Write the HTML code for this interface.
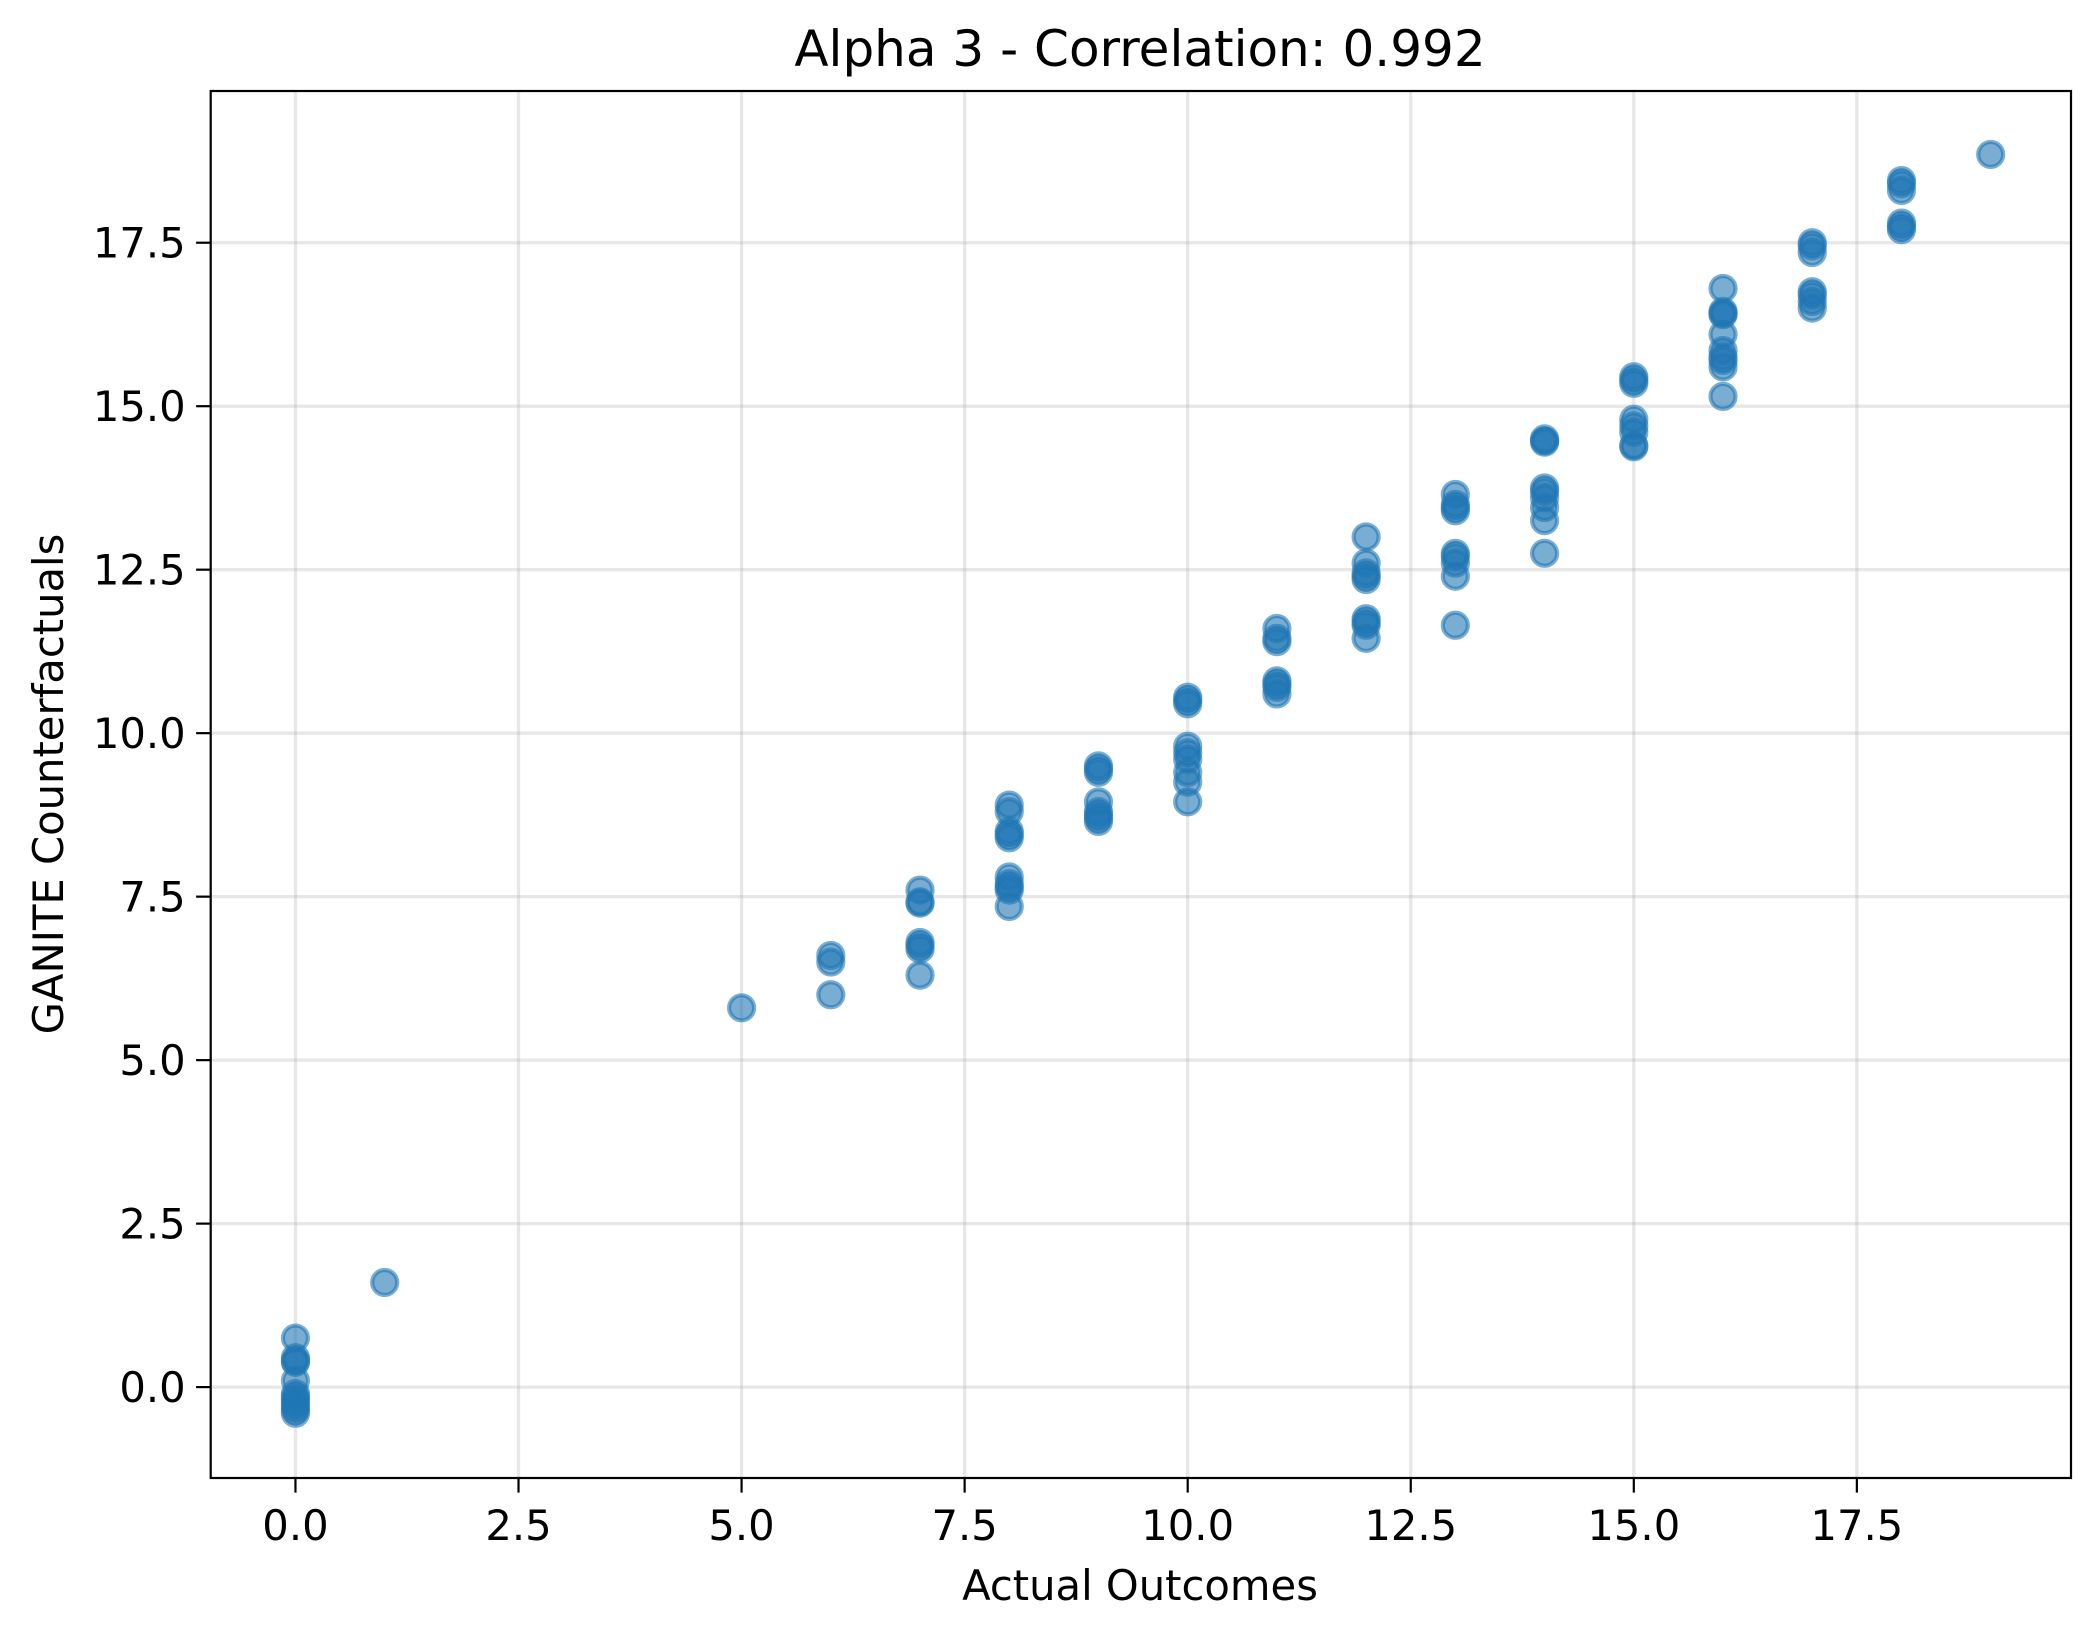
<!DOCTYPE html>
<html><head><meta charset="utf-8"><style>
body{margin:0;background:#fff}
svg text{font-family:"DejaVu Sans","Liberation Sans",sans-serif;fill:#000}
</style></head><body>
<svg id="chart" width="2100" height="1638" xmlns="http://www.w3.org/2000/svg">
<rect width="2100" height="1638" fill="#fff"/>
<g id="grid"></g>
<g id="points"></g>
<rect x="210.7" y="91" width="1860.3" height="1387" fill="none" stroke="#000" stroke-width="2.2"/>
<g id="ticks"></g>
<text x="1140" y="66" font-size="50" text-anchor="middle">Alpha 3 - Correlation: 0.992</text>
<text x="1140" y="1600" font-size="41.7" text-anchor="middle">Actual Outcomes</text>
<text transform="translate(63,784) rotate(-90)" font-size="41.7" text-anchor="middle">GANITE Counterfactuals</text>
</svg>
<script>
const xCats=[0,1,5,6,7,8,9,10,11,12,13,14,15,16,17,18,19];
const yGroups=[
[0.75,0.45,0.4,0.38,0.1,-0.1,-0.15,-0.2,-0.25,-0.3,-0.35,-0.4],
[1.6],
[5.8],
[6.6,6.5,6.0],
[7.6,7.4,7.42,6.8,6.75,6.7,6.3],
[8.9,8.8,8.5,8.45,8.4,7.8,7.7,7.65,7.6,7.35],
[9.5,9.45,9.4,8.95,8.8,8.75,8.7,8.65],
[10.55,10.5,10.45,9.8,9.7,9.6,9.4,9.25,8.95],
[11.6,11.45,11.4,10.8,10.75,10.7,10.6],
[13.0,12.6,12.45,12.4,12.35,11.75,11.7,11.65,11.45],
[13.65,13.5,13.45,13.4,12.75,12.7,12.6,12.4,11.65],
[14.5,14.47,14.45,13.75,13.7,13.6,13.45,13.25,12.75],
[15.45,15.4,15.35,14.8,14.7,14.6,14.4,14.38],
[16.8,16.45,16.42,16.4,16.1,15.85,15.75,15.7,15.6,15.15],
[17.5,17.45,17.35,16.75,16.7,16.6,16.5],
[18.45,18.4,18.3,17.8,17.75,17.7],
[18.85]
];
const xTicks=[0,2.5,5,7.5,10,12.5,15,17.5];
const yTicks=[0,2.5,5,7.5,10,12.5,15,17.5];
const xTickLabels=["0.0","2.5","5.0","7.5","10.0","12.5","15.0","17.5"];
const yTickLabels=["0.0","2.5","5.0","7.5","10.0","12.5","15.0","17.5"];

const NS="http://www.w3.org/2000/svg";
const L=210.7,R=2071,T=91,B=1478;
const xMin=-0.95,xMax=19.9,yMin=-1.39,yMax=19.82;
function sx(v){return L+(v-xMin)/(xMax-xMin)*(R-L);}
function sy(v){return B-(v-yMin)/(yMax-yMin)*(B-T);}
function mk(tag,attrs,parent){const e=document.createElementNS(NS,tag);for(const k in attrs)e.setAttribute(k,attrs[k]);parent.appendChild(e);return e;}
const grid=document.getElementById('grid'),ticks=document.getElementById('ticks'),pts=document.getElementById('points');
xTicks.forEach((t,i)=>{
  const x=sx(t);
  const g=mk('line',{x1:x,x2:x,y1:T,y2:B,stroke:'#b0b0b0','stroke-opacity':0.3,'stroke-width':3.3},grid);
  
  
  const tk=mk('line',{x1:x,x2:x,y1:B,y2:B+14.6,stroke:'#000','stroke-width':2.2},ticks);
  
  
  const tx=mk('text',{x:x,y:B+62,'font-size':41.7,'text-anchor':'middle'},ticks);
  tx.textContent=xTickLabels[i];
  
  
});
yTicks.forEach((t,i)=>{
  const y=sy(t);
  const g=mk('line',{x1:L,x2:R,y1:y,y2:y,stroke:'#b0b0b0','stroke-opacity':0.3,'stroke-width':3.3},grid);
  
  
  const tk=mk('line',{x1:L-14.6,x2:L,y1:y,y2:y,stroke:'#000','stroke-width':2.2},ticks);
  
  
  const tx=mk('text',{x:L-25,y:y+15,'font-size':41.7,'text-anchor':'end'},ticks);
  tx.textContent=yTickLabels[i];
  
  
});
xCats.forEach((xv,i)=>{
  yGroups[i].forEach(yv=>{
    const c=mk('circle',{cx:sx(xv),cy:sy(yv),r:12.5,fill:'#1f77b4','fill-opacity':0.6,stroke:'#1f77b4','stroke-opacity':0.6,'stroke-width':4.2},pts);
    
    
  });
});
</script>
</body></html>
